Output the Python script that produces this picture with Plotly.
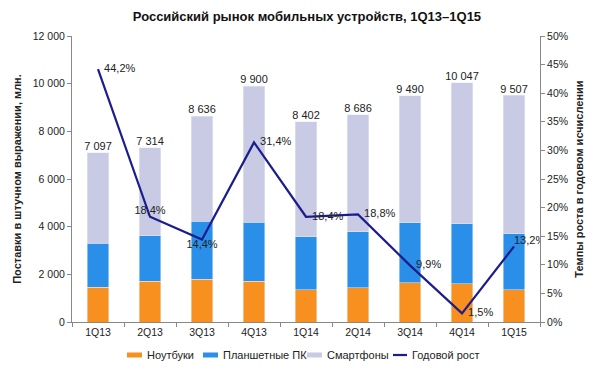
import plotly.graph_objects as go

quarters = ["1Q13", "2Q13", "3Q13", "4Q13", "1Q14", "2Q14", "3Q14", "4Q14", "1Q15"]
notebooks = [1450, 1700, 1800, 1700, 1350, 1440, 1650, 1600, 1360]
tablets = [1850, 1920, 2420, 2480, 2220, 2340, 2520, 2530, 2340]
totals = [7097, 7314, 8636, 9900, 8402, 8686, 9490, 10047, 9507]
growth = [44.2, 18.4, 14.4, 31.4, 18.4, 18.8, 9.9, 1.5, 13.2]
series_names = ["Ноутбуки", "Планшетные ПК", "Смартфоны", "Годовой рост"]

smartphones = [t - n - p for t, n, p in zip(totals, notebooks, tablets)]
growth_pos = ["middle right", "top center", "bottom center", "middle right", "middle right",
              "middle right", "middle right", "middle right", "top right"]
growth_text = [("  " if p == "middle right" else "") + f"{v:.1f}%".replace(".", ",")
               for v, p in zip(growth, growth_pos)]

C_NB, C_TAB, C_SP, C_LINE = "#F7901E", "#2A8FE8", "#C9CBE4", "#1C1C8C"
FONT = "Arial, Liberation Sans, sans-serif"
fig = go.Figure()
fig.add_trace(go.Bar(x=quarters, y=notebooks, name=series_names[0], marker_color=C_NB, width=0.42))
fig.add_trace(go.Bar(x=quarters, y=tablets, name=series_names[1], marker_color=C_TAB, width=0.42))
fig.add_trace(go.Bar(x=quarters, y=smartphones, name=series_names[2], marker_color=C_SP, width=0.42))
fig.add_trace(go.Scatter(x=quarters, y=totals, mode="text", text=[f"{v:,}".replace(",", " ") for v in totals],
                         textposition="top center", textfont=dict(size=11, color="#222"),
                         showlegend=False, hoverinfo="skip"))
fig.add_trace(go.Scatter(x=quarters, y=growth, name=series_names[3], yaxis="y2", mode="lines+text",
                         line=dict(color=C_LINE, width=2.2),
                         text=growth_text,
                         textposition=growth_pos, textfont=dict(size=11, color="#222")))

# compact legend drawn below the plot (paper coordinates)
leg_y0, leg_y1, leg_yc = -0.1066, -0.1241, -0.1154
leg_items = [(0.1175, 0.1496, 0.156, C_NB, "rect"),
             (0.2799, 0.3120, 0.3184, C_TAB, "rect"),
             (0.5021, 0.5342, 0.5406, C_SP, "rect"),
             (0.6859, 0.7158, 0.7222, C_LINE, "line")]
shapes, annots = [], []
for (x0, x1, xt, col, kind), name in zip(leg_items, series_names):
    if kind == "rect":
        shapes.append(dict(type="rect", xref="paper", yref="paper", x0=x0, x1=x1, y0=leg_y1, y1=leg_y0,
                           fillcolor=col, line=dict(width=0)))
    else:
        shapes.append(dict(type="line", xref="paper", yref="paper", x0=x0, x1=x1, y0=leg_yc, y1=leg_yc,
                           line=dict(color=col, width=2.2)))
    annots.append(dict(text=name, xref="paper", yref="paper", x=xt, y=leg_yc, xanchor="left",
                       yanchor="middle", showarrow=False, font=dict(size=11, color="#222")))

fig.update_layout(
    width=592, height=362,
    barmode="stack",
    separators=", ",
    showlegend=False,
    shapes=shapes, annotations=annots,
    paper_bgcolor="white", plot_bgcolor="white",
    font=dict(family=FONT, size=11, color="#222"),
    margin=dict(l=64, r=60, t=28, b=48, autoexpand=False),
    title=dict(text="<b>Российский рынок мобильных устройств, 1Q13–1Q15</b>", x=0.505, xanchor="center",
               y=0.978, yanchor="middle", font=dict(size=13, color="#111")),
    xaxis=dict(showline=True, linecolor="#888", ticks="outside", tickson="boundaries", ticklen=4,
               tickcolor="#888", showgrid=False, tickfont=dict(size=10.5)),
    yaxis=dict(range=[0, 12000], dtick=2000, tickformat=",d", showline=True, linecolor="#888",
               ticks="outside", ticklen=4, tickcolor="#888", showgrid=False, zeroline=False,
               title=dict(text="<b>Поставки в штучном выражении, млн.</b>", font=dict(size=11), standoff=8),
               tickfont=dict(size=10.5)),
    yaxis2=dict(range=[0, 50], dtick=5, ticksuffix="%", overlaying="y", side="right", showline=True,
                linecolor="#888", ticks="outside", ticklen=4, tickcolor="#888", showgrid=False, zeroline=False,
                title=dict(text="<b>Темпы роста в годовом исчислении</b>", font=dict(size=11), standoff=8),
                tickfont=dict(size=10.5)),
)
fig.write_html("out.html")
